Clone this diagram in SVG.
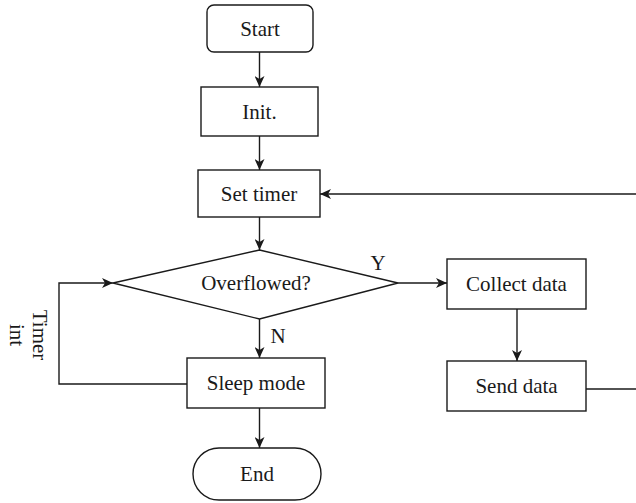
<svg xmlns="http://www.w3.org/2000/svg" width="636" height="503" viewBox="0 0 636 503">
<style>
.n{fill:#fff;stroke:#1a1a1a;stroke-width:1.4}
.c{fill:none;stroke:#1a1a1a;stroke-width:1.4}
text{font-family:"Liberation Serif","DejaVu Serif",serif;font-size:21px;fill:#1a1a1a}
.m{text-anchor:middle;dominant-baseline:central}
</style>
<defs>
<marker id="a" markerWidth="12" markerHeight="10" refX="11" refY="5" orient="auto" markerUnits="userSpaceOnUse">
<path d="M0,0 L11,5 L0,10 L3,5 z" fill="#1a1a1a"/>
</marker>
</defs>
<g id="connectors">
<line class="c" x1="259.5" y1="52" x2="259.5" y2="87" marker-end="url(#a)"/>
<line class="c" x1="259.5" y1="136" x2="259.5" y2="170" marker-end="url(#a)"/>
<line class="c" x1="259.5" y1="217" x2="259.5" y2="250" marker-end="url(#a)"/>
<line class="c" x1="259.5" y1="319" x2="259.5" y2="358" marker-end="url(#a)"/>
<line class="c" x1="259.5" y1="408" x2="259.5" y2="448" marker-end="url(#a)"/>
<polyline class="c" points="187,384 59,384 59,283 113,283" marker-end="url(#a)"/>
<line class="c" x1="398" y1="283" x2="447" y2="283" marker-end="url(#a)"/>
<line class="c" x1="517" y1="309" x2="517" y2="361" marker-end="url(#a)"/>
<line class="c" x1="586" y1="389" x2="636" y2="389"/>
<line class="c" x1="636" y1="194" x2="320" y2="194" marker-end="url(#a)"/>
<text x="378" y="270" text-anchor="middle">Y</text>
<text x="278" y="343" text-anchor="middle">N</text>
<text transform="translate(33,335) rotate(90)" text-anchor="middle">Timer</text>
<text transform="translate(10,335) rotate(90)" text-anchor="middle">int</text>
</g>
<g id="start"><rect class="n" x="207" y="5" width="106" height="47" rx="7"/><text class="m" x="260" y="28.5">Start</text></g>
<g id="init"><rect class="n" x="201" y="87" width="117" height="49"/><text class="m" x="259.5" y="111.5">Init.</text></g>
<g id="settimer"><rect class="n" x="198" y="170" width="122" height="47"/><text class="m" x="259" y="193.5">Set timer</text></g>
<g id="overflowed"><polygon class="n" points="259.5,250 398,283 259.5,319 113,283"/><text class="m" x="256" y="283">Overflowed?</text></g>
<g id="sleep"><rect class="n" x="187" y="358" width="138" height="50"/><text class="m" x="256" y="383">Sleep mode</text></g>
<g id="end"><rect class="n" x="193" y="448" width="128" height="52" rx="26"/><text class="m" x="257" y="474">End</text></g>
<g id="collect"><rect class="n" x="447" y="259" width="139" height="50"/><text class="m" x="516.5" y="284">Collect data</text></g>
<g id="send"><rect class="n" x="447" y="361" width="139" height="50"/><text class="m" x="516.5" y="386">Send data</text></g>
</svg>
